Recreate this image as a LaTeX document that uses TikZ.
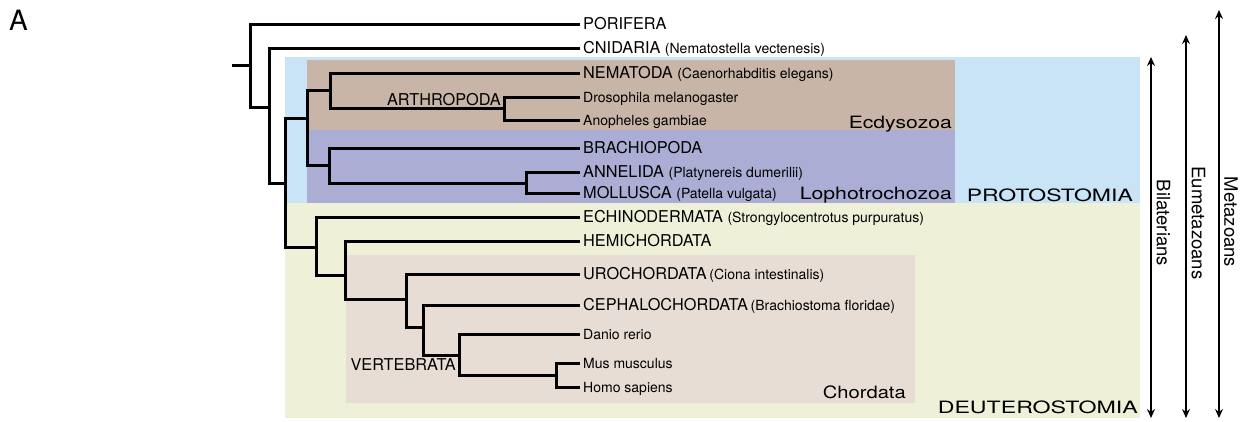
\documentclass[tikz,border=0pt]{standalone}
\usepackage{fontspec}
\setmainfont{TeX Gyre Heros}
\usetikzlibrary{arrows.meta}
\definecolor{protoblue}{RGB}{200,228,246}
\definecolor{ecdbrown}{RGB}{201,181,167}
\definecolor{lophpurple}{RGB}{171,173,213}
\definecolor{deutgreen}{RGB}{238,241,216}
\definecolor{chordbeige}{RGB}{232,221,212}
\newcommand{\capsz}{\fontsize{16.3bp}{18bp}\selectfont}
\newcommand{\spsz}{\fontsize{14bp}{16bp}\selectfont}
\newcommand{\spname}[1]{{\spsz #1}}
\begin{document}
\begin{tikzpicture}[x=1bp,y=-1bp,
  branch/.style={line width=3bp, line join=miter},
  leaf/.style={anchor=west, inner ysep=0pt, inner xsep=3bp, font=\capsz, text height=11.7bp, text depth=0pt},
  smallleaf/.style={leaf, font=\spsz, text height=10.1bp},
  cladelab/.style={font=\capsz, inner sep=0pt, text height=11.7bp, text depth=0pt},
  grp/.style={font=\fontsize{17bp}{19bp}\selectfont, inner sep=0pt, text height=12.3bp, text depth=0pt, anchor=east},
  arr/.style={line width=2.2bp, {Stealth[length=9bp,width=8bp,inset=3bp]}-{Stealth[length=9bp,width=8bp,inset=3bp]}},
  vlab/.style={font=\fontsize{18.5bp}{20bp}\selectfont, rotate=-90, inner sep=0pt}]
\useasboundingbox (0,0) rectangle (1242,421);
% backgrounds
\fill[protoblue] (285,57) rectangle (1140,203);
\fill[deutgreen] (285,203) rectangle (1140,418);
\fill[ecdbrown] (307,60) rectangle (955,130);
\fill[lophpurple] (307,130) rectangle (955,203);
\fill[chordbeige] (346,255) rectangle (915,403);
% panel letter
\node[font=\fontsize{28bp}{30bp}\selectfont, inner sep=0pt] (panelA) at (18.5,20) {A};
% leaves
\node[leaf] (poriferaL) at (580,24) {PORIFERA};
\node[leaf] (cnidariaL) at (580,48) {CNIDARIA \spname{(Nematostella vectenesis)}};
\node[leaf] (nematodaL) at (580,73) {NEMATODA \spname{(Caenorhabditis elegans)}};
\node[smallleaf] (drosL) at (580,97) {Drosophila melanogaster};
\node[smallleaf] (anophL) at (580,120) {Anopheles gambiae};
\node[leaf] (brachL) at (580,148) {BRACHIOPODA};
\node[leaf] (annelL) at (580,172) {ANNELIDA \spname{(Platynereis dumerilii)}};
\node[leaf] (mollL) at (580,193) {MOLLUSCA \spname{(Patella vulgata)}};
\node[leaf] (echinoL) at (580,217) {ECHINODERMATA \spname{(Strongylocentrotus purpuratus)}};
\node[leaf] (hemiL) at (580,241) {HEMICHORDATA};
\node[leaf] (uroL) at (580,274) {UROCHORDATA\,\spname{(Ciona intestinalis)}};
\node[leaf] (cephL) at (580,305) {CEPHALOCHORDATA\,\spname{(Brachiostoma floridae)}};
\node[smallleaf] (danioL) at (580,334) {Danio rerio};
\node[smallleaf] (musL) at (580,363) {Mus musculus};
\node[smallleaf] (homoL) at (580,387) {Homo sapiens};
% internal nodes
\coordinate (stub) at (232,65.5);
\coordinate (root) at (250,65.5);
\coordinate (n1) at (269,107);
\coordinate (n2) at (285,183);
\coordinate (n3) at (307,118);
\coordinate (ecd) at (330,90);
\coordinate (arth) at (504,108);
\coordinate (loph) at (329,165);
\coordinate (am) at (526,183);
\coordinate (deut) at (316,247);
\coordinate (n5) at (345,275);
\coordinate (chord) at (406,299);
\coordinate (n6) at (423,327);
\coordinate (vert) at (459,355);
\coordinate (mh) at (556,375);
% branches
\draw[branch] (stub) -- (root);
\draw[branch] (root) |- (poriferaL.west);
\draw[branch] (root) |- (n1);
\draw[branch] (n1) |- (cnidariaL.west);
\draw[branch] (n1) |- (n2);
\draw[branch] (n2) |- (n3);
\draw[branch] (n2) |- (deut);
\draw[branch] (n3) |- (ecd);
\draw[branch] (n3) |- (loph);
\draw[branch] (ecd) |- (nematodaL.west);
\draw[branch] (ecd) |- (arth);
\draw[branch] (arth) |- (drosL.west);
\draw[branch] (arth) |- (anophL.west);
\draw[branch] (loph) |- (brachL.west);
\draw[branch] (loph) |- (am);
\draw[branch] (am) |- (annelL.west);
\draw[branch] (am) |- (mollL.west);
\draw[branch] (deut) |- (echinoL.west);
\draw[branch] (deut) |- (n5);
\draw[branch] (n5) |- (hemiL.west);
\draw[branch] (n5) |- (chord);
\draw[branch] (chord) |- (uroL.west);
\draw[branch] (chord) |- (n6);
\draw[branch] (n6) |- (cephL.west);
\draw[branch] (n6) |- (vert);
\draw[branch] (vert) |- (danioL.west);
\draw[branch] (vert) |- (mh);
\draw[branch] (mh) |- (musL.west);
\draw[branch] (mh) |- (homoL.west);
% clade labels
\node[cladelab, anchor=east] (arthL) at (501,100) {ARTHROPODA};
\node[cladelab, anchor=east] (vertL) at (456,365) {VERTEBRATA};
% group labels
\node[grp] (ecdL) at (952,122) {\resizebox{103bp}{\height}{Ecdysozoa}};
\node[grp] (lophL) at (952,193) {\resizebox{152bp}{\height}{Lophotrochozoa}};
\node[grp] (protoL) at (1133,195) {\resizebox{166bp}{\height}{PROTOSTOMIA}};
\node[grp] (deutL) at (1138,407) {\resizebox{200bp}{\height}{DEUTEROSTOMIA}};
\node[grp] (chordL) at (906,392) {\resizebox{83bp}{\height}{Chordata}};
% range arrows
\coordinate (bilTop) at (1151,57);
\coordinate (bilBot) at (1151,418);
\coordinate (eumTop) at (1186,35);
\coordinate (eumBot) at (1186,418);
\coordinate (metTop) at (1219,10);
\coordinate (metBot) at (1219,418);
\draw[arr] (bilTop) -- (bilBot);
\draw[arr] (eumTop) -- (eumBot);
\draw[arr] (metTop) -- (metBot);
\node[vlab] (bilL) at (1163.5,223) {Bilaterians};
\node[vlab] (eumL) at (1198.5,223) {Eumetazoans};
\node[vlab] (metL) at (1231,222) {Metazoans};
\end{tikzpicture}
\end{document}
